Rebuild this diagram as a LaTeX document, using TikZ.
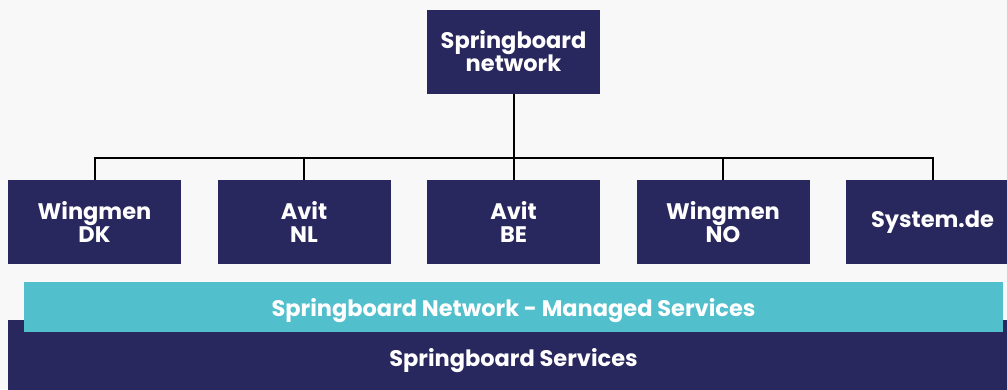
\documentclass[tikz,border=0pt]{standalone}
\usepackage{fontspec}
\setmainfont{Poppins}
\usetikzlibrary{chains,positioning}
\definecolor{sbnavy}{HTML}{29285E}
\definecolor{sbcyan}{HTML}{52BFCC}
\definecolor{sbback}{HTML}{F8F8F8}

\begin{document}
\begin{tikzpicture}
  [
    x=1pt, y=-1pt,
    start chain = going right,
    node distance = 36.5pt,
    box/.style =
      {fill=sbnavy, text=white, font=\bfseries\fontsize{22.5}{23}\selectfont,
       align=center, minimum width=173pt, minimum height=84pt,
       inner sep=0pt, outer sep=0pt},
    reg/.style = {box, on chain},
    bar/.style =
      {text=white, font=\bfseries\fontsize{22.5}{23}\selectfont,
       text height=21pt, text depth=3pt,
       inner sep=0pt, outer sep=0pt},
    wire/.style = {line width=2pt, black}
  ]
  \useasboundingbox (0, 0) rectangle (1007, 389);
  \fill[sbback] (0, 0) rectangle (1007, 389);

  \node [box] at (513.5, 51.5) (top) {Springboard\\network};

  \node [reg] at (94.5, 222) (dk) {Wingmen\\DK};
  \node [reg] (nl) {Avit\\NL};
  \node [reg] (be) {Avit\\BE};
  \node [reg] (no) {Wingmen\\NO};
  \node [reg] (sys) {System.de};

  \coordinate (bus) at (513.5, 158);
  \draw [wire] (top.south) -- (bus);
  \foreach \n in {dk, nl, be, no, sys}
    \draw [wire] (bus) -| (\n.north);

  \node [bar, fill=sbnavy, minimum width=1011pt, minimum height=74pt]
    at (513.5, 357) (svc) {Springboard Services};
  \node [bar, fill=sbcyan, minimum width=979pt, minimum height=50pt]
    at (513.5, 307) (managed) {Springboard Network - Managed Services};

\end{tikzpicture}
\end{document}
